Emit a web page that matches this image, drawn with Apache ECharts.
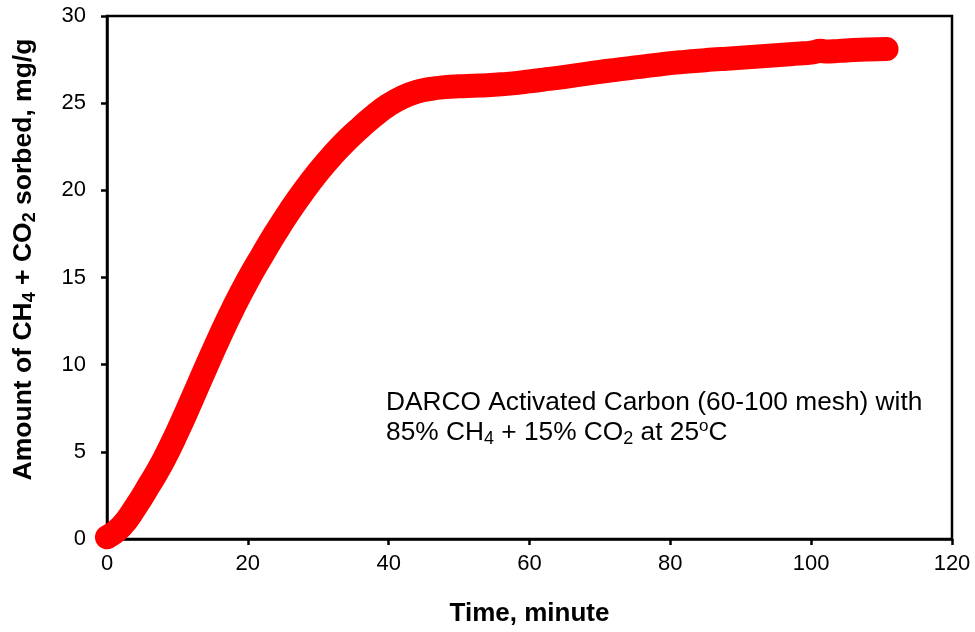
<!DOCTYPE html>
<html>
<head>
<meta charset="utf-8">
<script src="https://cdn.jsdelivr.net/npm/echarts@6/dist/echarts.min.js"></script>
<style>
  html, body { margin: 0; padding: 0; background: #fff; }
  #chart { width: 975px; height: 632px; }
</style>
</head>
<body>
<div id="chart"></div>
<script>
// time in minutes, uptake in mg/g
var timeMin = [0, 2, 4, 6, 8, 10, 12, 14, 16, 18, 20, 22, 24, 26, 28, 30,
  32, 34, 36, 38, 40, 42, 44, 46, 48, 50, 52, 54, 56, 58, 60, 62, 64, 66, 68, 70,
  72, 74, 76, 78, 80, 82, 84, 86, 88, 90, 92, 94, 96, 98, 100, 101.4, 102, 104, 106, 108, 110.7]
var sorbed = [0.1, 0.7, 1.8, 3.1, 4.5, 6.15, 7.95, 9.8, 11.6, 13.3, 14.85, 16.25, 17.6, 18.85, 20.0, 21.05,
  22.0, 22.85, 23.6, 24.3, 24.9, 25.35, 25.65, 25.82, 25.92, 25.97, 26.0, 26.03, 26.08, 26.15, 26.25, 26.35, 26.45, 26.57, 26.68, 26.8,
  26.9, 27.0, 27.1, 27.2, 27.3, 27.37, 27.43, 27.5, 27.55, 27.6, 27.66, 27.72, 27.78, 27.84, 27.9, 28.0, 27.96, 28.0, 28.05, 28.08, 28.1]

var xTicks = [0, 20, 40, 60, 80, 100, 120]
var yTicks = [0, 5, 10, 15, 20, 25, 30]

var font = 'Liberation Sans, Arial, sans-serif'

var points = timeMin.map(function (t, i) { return [t, sorbed[i]] })

var chart = echarts.init(document.getElementById('chart'))

var option = {
  animation: false,
  grid: {
    left: 107, right: 23, top: 16, bottom: 91,
    show: true, borderColor: '#000', borderWidth: 2.5
  },
  xAxis: {
    type: 'value',
    min: xTicks[0], max: xTicks[xTicks.length - 1], interval: 20,
    name: 'Time, minute',
    nameLocation: 'middle',
    nameGap: 62,
    nameTextStyle: { fontFamily: font, fontSize: 26, fontWeight: 'bold', color: '#000' },
    axisLine: { lineStyle: { color: '#000', width: 2.5 } },
    axisTick: { inside: false, length: 6, lineStyle: { color: '#000', width: 2.5 } },
    axisLabel: { fontFamily: font, fontSize: 22, color: '#000', margin: 14 },
    splitLine: { show: false }
  },
  yAxis: {
    type: 'value',
    min: yTicks[0], max: yTicks[yTicks.length - 1], interval: 5,
    name: 'Amount of CH{sub|4} + CO{sub|2} sorbed, mg/g',
    nameLocation: 'middle',
    nameGap: 68,
    nameTextStyle: {
      fontFamily: font, fontSize: 26.5, fontWeight: 'bold', color: '#000', lineHeight: 30,
      padding: [0, 0, 0, 36],
      rich: {
        sub: { fontFamily: font, fontSize: 18, fontWeight: 'bold', color: '#000', lineHeight: 8, verticalAlign: 'bottom' }
      }
    },
    axisLine: { lineStyle: { color: '#000', width: 2.5 } },
    axisTick: { inside: false, length: 6, lineStyle: { color: '#000', width: 2.5 } },
    axisLabel: { fontFamily: font, fontSize: 22, color: '#000', margin: 21 },
    splitLine: { show: false }
  },
  graphic: [{
    type: 'text',
    left: 386,
    top: 388,
    style: {
      text: 'DARCO Activated Carbon (60-100 mesh) with\n85% CH{sub|4} + 15% CO{sub|2} at 25{sup|o}C',
      fontFamily: font,
      fontSize: 26.3,
      lineHeight: 30,
      fill: '#000',
      rich: {
        sub: { fontFamily: font, fontSize: 18, lineHeight: 8, verticalAlign: 'bottom', fill: '#000' },
        sup: { fontFamily: font, fontSize: 17, lineHeight: 16, verticalAlign: 'top', fill: '#000' }
      }
    }
  }],
  series: [{
    type: 'line',
    data: points,
    showSymbol: false,
    smooth: 0.5,
    lineStyle: { color: '#ff0000', width: 24, cap: 'round', join: 'round' }
  }]
}

chart.setOption(option)
</script>
</body>
</html>
